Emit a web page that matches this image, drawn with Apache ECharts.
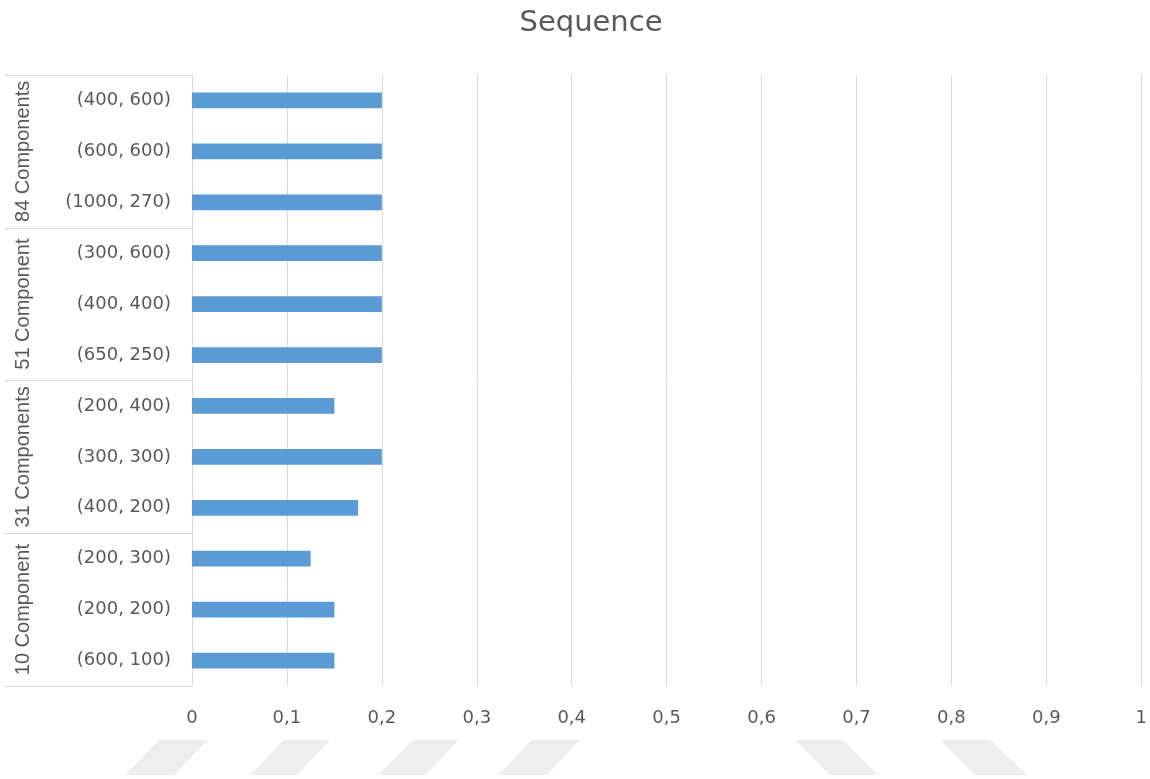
<!DOCTYPE html>
<html>
<head>
<meta charset="utf-8">
<script src="https://cdn.jsdelivr.net/npm/echarts@6/dist/echarts.min.js"></script>
<style>
html,body{margin:0;padding:0;background:#fff;}
#chart{width:1150px;height:779px;}
</style>
</head>
<body>
<div id="chart"></div>
<script>
// Data (top to bottom as displayed)
const categories = ['(400, 600)', '(600, 600)', '(1000, 270)',
                    '(300, 600)', '(400, 400)', '(650, 250)',
                    '(200, 400)', '(300, 300)', '(400, 200)',
                    '(200, 300)', '(200, 200)', '(600, 100)'];
const groups = ['84 Components', '51 Component', '31 Components', '10 Component'];
const values = [0.2, 0.2, 0.2,
                0.2, 0.2, 0.2,
                0.15, 0.2, 0.175,
                0.125, 0.15, 0.15];
const xTicks = { min: 0, max: 1, interval: 0.1 };

const chart = echarts.init(document.getElementById('chart'), null, { renderer: 'canvas' });

// watermark shapes at the bottom (decorative)
const wm = [
  [[159,740],[208,740],[174,775],[125,775]],
  [[284,740],[330,740],[297,775],[250,775]],
  [[413,740],[459,740],[425,775],[378,775]],
  [[532,740],[580,740],[547,775],[498,775]],
  [[795,740],[843,740],[878,775],[830,775]],
  [[940,740],[990,740],[1027,775],[975,775]]
];

const option = {
  backgroundColor: '#ffffff',
  animation: false,
  title: {
    text: 'Sequence',
    left: 586,
    top: 4,
    textAlign: 'center',
    textStyle: { fontFamily: 'DejaVu Sans', fontSize: 29, fontWeight: 'normal', color: '#595959' }
  },
  graphic: wm.map(p => ({
    type: 'polygon', z: -10, silent: true,
    shape: { points: p },
    style: { fill: '#eeeeee' }
  })),
  grid: { left: 192, right: 8, top: 75, bottom: 93, containLabel: false },
  xAxis: {
    type: 'value',
    min: xTicks.min, max: xTicks.max, interval: xTicks.interval,
    axisLine: { show: false },
    axisTick: { show: false },
    splitLine: { show: true, lineStyle: { color: '#d9d9d9', width: 1 } },
    axisLabel: {
      margin: 23,
      color: '#595959',
      fontFamily: 'DejaVu Sans',
      fontSize: 18,
      formatter: v => String(Math.round(v * 10) / 10).replace('.', ',')
    }
  },
  yAxis: [
    {
      type: 'category',
      data: categories,
      inverse: true,
      position: 'left',
      axisLine: { show: true, lineStyle: { color: '#d9d9d9', width: 1 } },
      axisTick: { show: false },
      axisLabel: {
        margin: 21,
        color: '#595959',
        fontFamily: 'DejaVu Sans',
        fontSize: 18
      }
    },
    {
      type: 'category',
      data: groups,
      inverse: true,
      position: 'left',
      offset: 0,
      axisLine: { show: false },
      axisTick: { show: true, interval: 0, length: 188, lineStyle: { color: '#d9d9d9', width: 1 } },
      axisLabel: {
        rotate: 90,
        margin: 159,
        interval: 0,
        color: '#595959',
        fontFamily: 'Liberation Sans',
        fontSize: 20
      }
    }
  ],
  series: [{
    type: 'bar',
    yAxisIndex: 0,
    data: values,
    barWidth: '31%',
    itemStyle: { color: '#5b9bd5' }
  }]
};
chart.setOption(option);
</script>
</body>
</html>
